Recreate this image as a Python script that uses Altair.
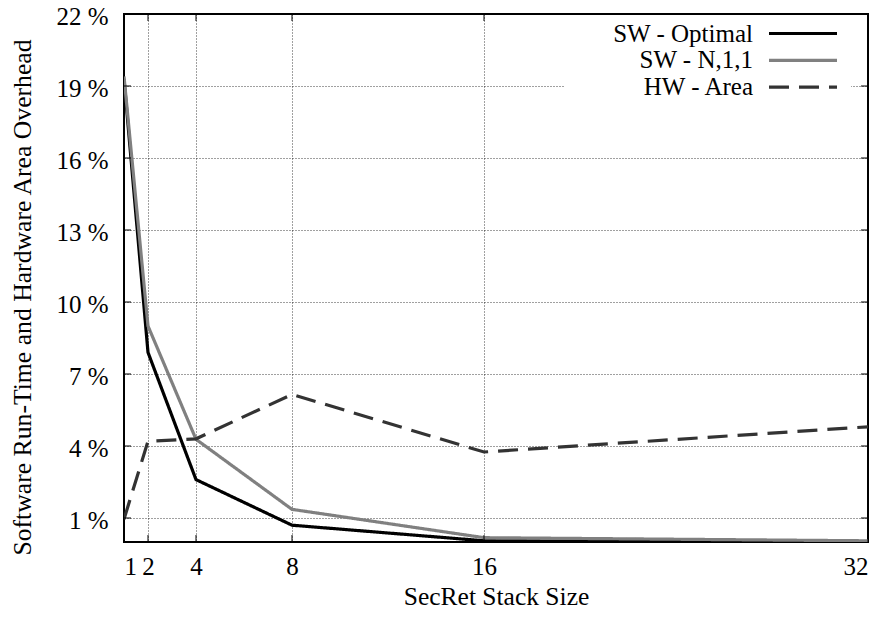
import altair as alt
import pandas as pd

# ---- data ----
sizes = [1, 2, 4, 8, 16, 32]
sw_optimal = [19.3, 7.9, 2.6, 0.7, 0.05, 0.0]
sw_n11 = [19.4, 9.0, 4.28, 1.36, 0.18, 0.05]
hw_area = [0.95, 4.2, 4.3, 6.15, 3.75, 4.8]
series_names = ["SW - Optimal", "SW - N,1,1", "HW - Area"]
series_colors = ["#000000", "#808080", "#333333"]
series_dash = [[1, 0], [1, 0], [20, 10]]
x_ticks = [1, 2, 4, 8, 16, 32]
y_ticks = [1, 4, 7, 10, 13, 16, 19, 22]

W, H = 744, 528
FONT = "Liberation Serif"
FS = 25

rows = []
for name, vals in zip(series_names, [sw_optimal, sw_n11, hw_area]):
    for s, v in zip(sizes, vals):
        rows.append({"size": s, "value": v, "series": name})
df = pd.DataFrame(rows)

xscale = alt.Scale(domain=[1, 32], nice=False, zero=False)
yscale = alt.Scale(domain=[0, 22], nice=False, zero=False)

x_axis = alt.Axis(values=x_ticks, title="SecRet Stack Size", grid=True,
                  gridDash=[1, 2], gridColor="#000000", gridOpacity=0.75,
                  ticks=False, labelPadding=24, labelBaseline="middle",
                  titleBaseline="middle", titleY=54, titleFontSize=25.5)
y_axis = alt.Axis(values=y_ticks, title="Software Run-Time and Hardware Area Overhead",
                  grid=True, gridDash=[1, 2], gridColor="#000000", gridOpacity=0.75,
                  ticks=False, labelPadding=16, labelOffset=2.5,
                  labelExpr="datum.value + ' %'",
                  titleX=-102, titleY=283, titleAngle=270, titleFontSize=25.7,
                  titleAlign="center", titleBaseline="middle")

lines = alt.Chart(df).mark_line(strokeWidth=3.2, clip=True).encode(
    x=alt.X("size:Q", scale=xscale, axis=x_axis),
    y=alt.Y("value:Q", scale=yscale, axis=y_axis),
    color=alt.Color("series:N", scale=alt.Scale(domain=series_names, range=series_colors), legend=None),
    strokeDash=alt.StrokeDash("series:N", scale=alt.Scale(domain=series_names, range=series_dash), legend=None),
    order=alt.Order("size:Q"),
)

ydf = pd.DataFrame({"v": y_ticks})
xdf = pd.DataFrame({"v": x_ticks})
TL = 7
tick_layers = [
    alt.Chart(ydf).mark_rule(color="black", strokeWidth=1).encode(
        y=alt.Y("v:Q", scale=yscale, axis=y_axis), x=alt.value(0), x2=alt.value(TL)),
    alt.Chart(ydf).mark_rule(color="black", strokeWidth=1).encode(
        y=alt.Y("v:Q", scale=yscale, axis=y_axis), x=alt.value(W - TL), x2=alt.value(W)),
    alt.Chart(xdf).mark_rule(color="black", strokeWidth=1).encode(
        x=alt.X("v:Q", scale=xscale, axis=x_axis), y=alt.value(H - TL), y2=alt.value(H)),
    alt.Chart(xdf).mark_rule(color="black", strokeWidth=1).encode(
        x=alt.X("v:Q", scale=xscale, axis=x_axis), y=alt.value(0), y2=alt.value(TL)),
]

# ---- gnuplot-style key (text right-aligned, sample to the right) ----
key_df = pd.DataFrame({"series": series_names})
legend_layers = [
    alt.Chart(key_df).mark_rect(color="white").encode(
        x=alt.value(441), x2=alt.value(727), y=alt.value(3), y2=alt.value(88))
]
for i, (name, col, dash) in enumerate(zip(series_names, series_colors, series_dash)):
    yy = 19.5 + 26.8 * i
    one = pd.DataFrame({"series": [name]})
    legend_layers.append(
        alt.Chart(one).mark_text(align="right", baseline="middle", font=FONT,
                                 fontSize=FS, color="black").encode(
            text="series:N", x=alt.value(629), y=alt.value(yy)))
    legend_layers.append(
        alt.Chart(one).mark_rule(color=col, strokeWidth=3.2, strokeDash=dash).encode(
            x=alt.value(645), x2=alt.value(713), y=alt.value(yy)))

chart = alt.layer(lines, *tick_layers, *legend_layers).properties(
    width=W, height=H,
    autosize=alt.AutoSizeParams(type="none"),
    padding={"left": 116, "top": 6, "right": 5, "bottom": 70},
    background="white",
).configure_view(
    stroke="black", strokeWidth=2
).configure_axis(
    domain=False,
    labelFont=FONT, labelFontSize=FS, labelColor="black",
    titleFont=FONT, titleFontSize=FS, titleFontWeight="normal", titleColor="black",
)

chart.save("out.html", embed_options={"renderer": "svg", "actions": False})
